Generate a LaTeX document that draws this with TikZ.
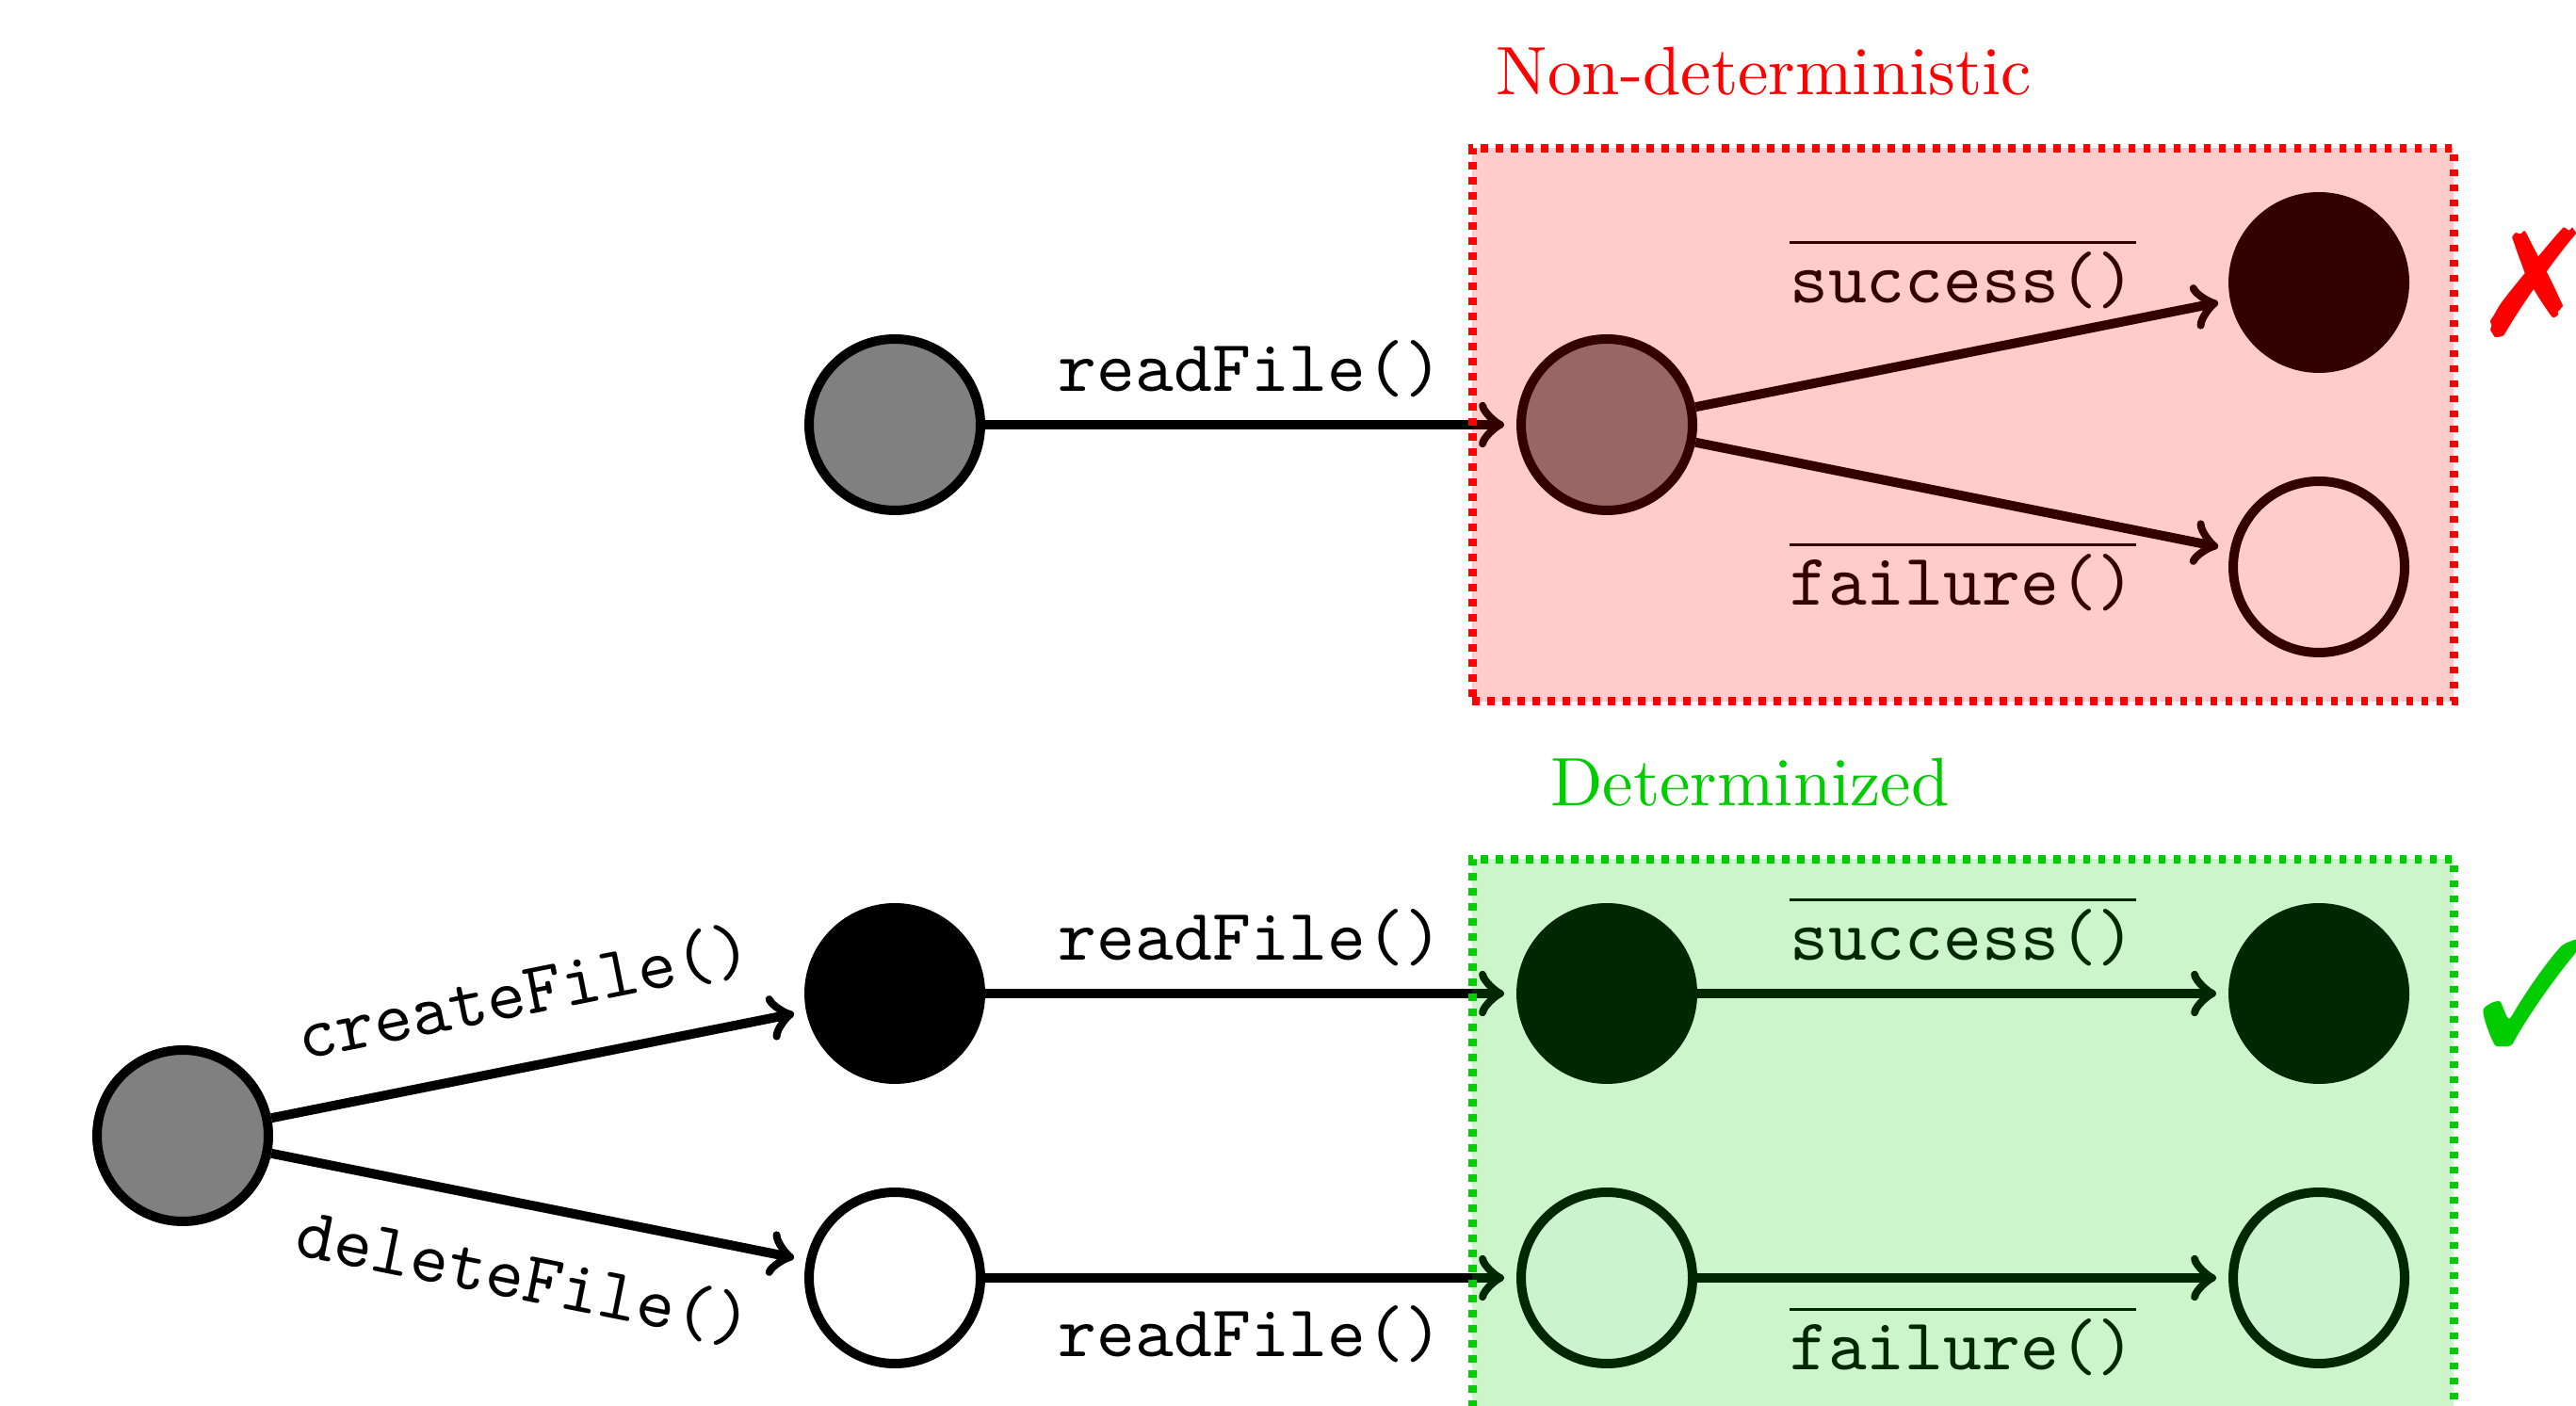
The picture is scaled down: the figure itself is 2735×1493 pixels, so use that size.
\documentclass[tikz,border=0pt]{standalone}
\usepackage{fix-cm}
\usepackage{fontspec}
\usepackage{pifont}
\usetikzlibrary{fit}
\definecolor{detgreen}{RGB}{0,204,0}
\tikzset{
  state/.style={circle, draw=black, line width=1.3755pt, minimum size=25.03pt, inner sep=0pt},
  pending/.style={state, fill=gray},
  okstate/.style={state, fill=black},
  failstate/.style={state, fill=white},
  trans/.style={->, line width=1.3755pt, shorten >=1.8pt},
  lbl/.style={font=\fontsize{10.7pt}{13pt}\selectfont\ttfamily},
  zone/.style={rectangle, line width=1.24pt, dash pattern=on 1.05pt off 1.15pt,
               fill opacity=0.2, inner sep=6.46pt},
  title/.style={font=\fontsize{10pt}{12pt}\selectfont, anchor=base},
  verdict/.style={font=\fontsize{22pt}{24pt}\selectfont, inner sep=0pt},
}
\begin{document}
\begin{tikzpicture}[x=0.13755pt, y=-0.13755pt]
\useasboundingbox (0,0) rectangle (2735,1493);
\clip (0,0) rectangle (2735,1493);

% reading a file whose existence is unknown
\node[pending]   (a) at (950,451)  {};
\node[pending]   (b) at (1706,451) {};
\node[okstate]   (s) at (2462,300) {};
\node[failstate] (f) at (2462,602) {};
\draw[trans] (a) -- node[lbl, above] {readFile()} (b);
\draw[trans] (b) -- node[lbl, above=2.5pt] {$\overline{\mbox{success()}}$} (s);
\draw[trans] (b) -- node[lbl, below=2.5pt] {$\overline{\mbox{failure()}}$} (f);

% creating or deleting the file first
\node[pending]   (l) at (194,1206)  {};
\node[okstate]   (c) at (950,1055)  {};
\node[failstate] (d) at (950,1357)  {};
\node[okstate]   (e) at (1706,1055) {};
\node[failstate] (g) at (1706,1357) {};
\node[okstate]   (h) at (2462,1055) {};
\node[failstate] (k) at (2462,1357) {};
\draw[trans] (l) -- node[lbl, sloped, above=2.5pt] {createFile()} (c);
\draw[trans] (l) -- node[lbl, sloped, below=2.5pt] {deleteFile()} (d);
\draw[trans] (c) -- node[lbl, above] {readFile()} (e);
\draw[trans] (d) -- node[lbl, below] {readFile()} (g);
\draw[trans] (e) -- node[lbl, above] {$\overline{\mbox{success()}}$} (h);
\draw[trans] (g) -- node[lbl, below] {$\overline{\mbox{failure()}}$} (k);

% tinted regions on top of the states they group
\node[zone, draw=red, fill=red, fit=(b)(s)(f)] (nd) {};
\node[zone, draw=detgreen, fill=detgreen, fit=(e)(h)(g)(k)] (det) {};

\node[title, text=red]      (ndt)  at (1873,101) {Non-deterministic};
\node[title, text=detgreen] (dett) at (1858,856) {Determinized};

\node[verdict, text=red]      (xm) at (2690,300)  {\ding{55}};
\node[verdict, text=detgreen] (cm) at (2692,1054) {\ding{51}};
\end{tikzpicture}
\end{document}
